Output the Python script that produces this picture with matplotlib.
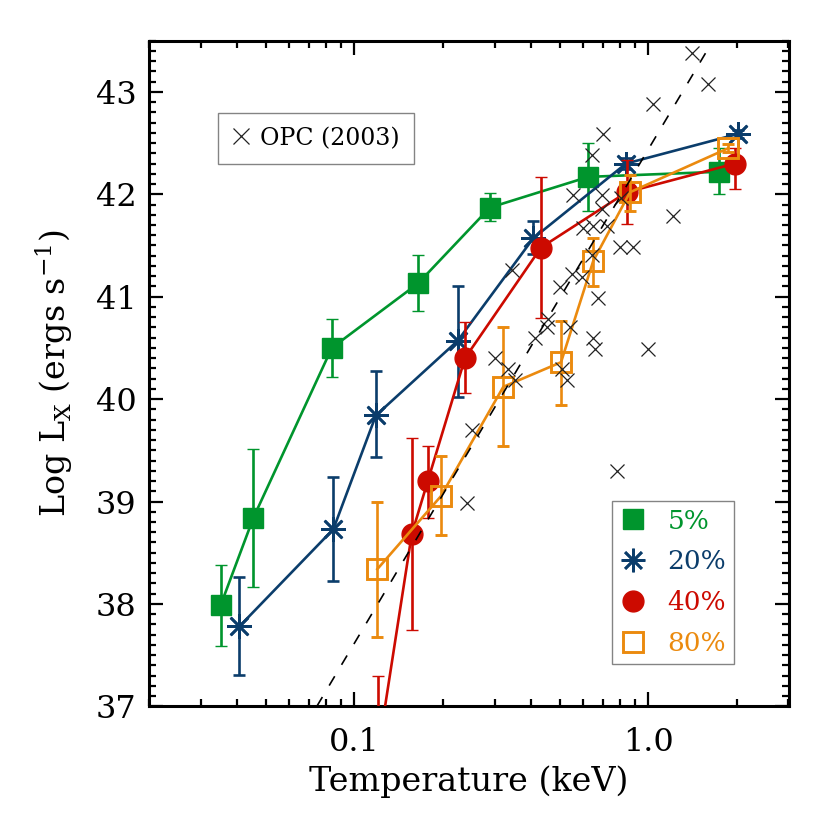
import matplotlib
matplotlib.use("Agg")
import matplotlib.pyplot as plt
from matplotlib.lines import Line2D
from matplotlib.ticker import FixedLocator, FixedFormatter, MultipleLocator

# ----------------------------------------------------
# Data
# ----------------------------------------------------
# 5% sample
green_T = [0.0351, 0.0453, 0.0838, 0.1647, 0.289, 0.625, 1.744]
green_L = [37.99, 38.84, 40.50, 41.13, 41.87, 42.17, 42.22]
green_lo = [37.59, 38.17, 40.22, 40.86, 41.74, 41.84, 42.00]
green_hi = [38.38, 39.51, 40.78, 41.41, 42.01, 42.50, 42.45]

# 20% sample
blue_T = [0.0406, 0.0848, 0.1183, 0.2247, 0.406, 0.840, 2.024]
blue_L = [37.78, 38.73, 39.84, 40.57, 41.57, 42.30, 42.59]
blue_lo = [37.31, 38.22, 39.43, 40.02, 41.42, 42.25, 42.55]
blue_hi = [38.26, 39.24, 40.27, 41.10, 41.74, 42.35, 42.63]

# 40% sample
red_T = [0.1207, 0.1567, 0.1777, 0.2379, 0.4316, 0.8444, 1.972]
red_L = [36.58, 38.68, 39.20, 40.40, 41.48, 42.02, 42.30]
red_lo = [35.90, 37.75, 38.84, 40.06, 40.79, 41.71, 42.05]
red_hi = [37.30, 39.62, 39.54, 40.75, 42.17, 42.33, 42.45]

# 80% sample
orange_T = [0.1197, 0.1967, 0.3212, 0.5048, 0.650, 0.8665, 1.872]
orange_L = [38.34, 39.05, 40.12, 40.36, 41.35, 42.02, 42.45]
orange_lo = [37.68, 38.67, 39.54, 39.94, 41.10, 41.84, 42.41]
orange_hi = [39.00, 39.44, 40.70, 40.76, 41.57, 42.19, 42.49]

# OPC (2003) groups
opc_T = [1.405, 1.600, 1.040, 0.703, 0.643, 0.554, 0.695, 1.218, 0.601,
         0.650, 0.722, 0.801, 0.889, 0.642, 0.549, 0.594, 0.501, 0.343,
         0.676, 0.457, 0.451, 0.542, 0.412, 0.650, 0.659, 1.000, 0.301,
         0.334, 0.352, 0.507, 0.528, 0.2514, 0.2417, 0.781, 0.807, 0.696]
opc_L = [43.38, 43.08, 42.88, 42.59, 42.38, 41.99, 41.99, 41.79, 41.67,
         41.69, 41.69, 41.49, 41.49, 41.41, 41.22, 41.19, 41.09, 41.26,
         40.99, 40.78, 40.70, 40.70, 40.60, 40.60, 40.49, 40.49, 40.40,
         40.29, 40.19, 40.29, 40.19, 39.70, 38.99, 39.30, 41.96, 41.86]

# OPC relation (dashed line end points)
fit_T = [0.0745, 1.66]
fit_L = [37.0, 43.5]

# Axis ticks
x_major = [0.1, 1.0]
x_major_labels = ["0.1", "1.0"]
x_minor = [0.02, 0.03, 0.04, 0.05, 0.06, 0.07, 0.08, 0.09,
           0.2, 0.3, 0.4, 0.5, 0.6, 0.7, 0.8, 0.9, 2.0, 3.0]

legend_labels = ["5%", "20%", "40%", "80%"]

GREEN = "#00952d"
BLUE = "#0b3d6b"
RED = "#cc0a00"
ORANGE = "#eb8a0e"

plt.rcParams["font.family"] = ["DejaVu Serif"]

fig = plt.figure(figsize=(8.3, 8.3), dpi=100)
ax = fig.add_axes([0.1795, 0.149, 0.7715, 0.802])


def draw_series(T, L, lo, hi, color, marker, ms, mfc, mew, z):
    yerr = [[l - a for l, a in zip(L, lo)], [b - l for l, b in zip(L, hi)]]
    ax.errorbar(T, L, yerr=yerr, color=color, lw=1.9, marker=marker,
                ms=ms, mfc=mfc, mec=color, mew=mew, elinewidth=1.9,
                capsize=4.5, capthick=1.9, zorder=z)


draw_series(green_T, green_L, green_lo, green_hi, GREEN, "s", 14.5, GREEN, 1, 3)
draw_series(blue_T, blue_L, blue_lo, blue_hi, BLUE, (8, 2, 0), 18, BLUE, 1.9, 4)
draw_series(red_T, red_L, red_lo, red_hi, RED, "o", 15, RED, 1, 5)
draw_series(orange_T, orange_L, orange_lo, orange_hi, ORANGE, "s", 15, "none", 2.1, 6)

# OPC crosses and relation
ax.plot(opc_T, opc_L, "x", color="#222222", ms=10, mew=0.9, zorder=7)
ax.plot(fit_T, fit_L, color="black", lw=1.2, ls=(0, (6.5, 8)), zorder=8)

# ----------------------------------------------------
# Axes
# ----------------------------------------------------
ax.set_xscale("log")
ax.set_xlim(0.02, 3.02)
ax.set_ylim(37, 43.5)

ax.xaxis.set_major_locator(FixedLocator(x_major))
ax.xaxis.set_major_formatter(FixedFormatter(x_major_labels))
ax.xaxis.set_minor_locator(FixedLocator(x_minor))
ax.xaxis.set_minor_formatter(FixedFormatter([""] * len(x_minor)))
ax.yaxis.set_major_locator(MultipleLocator(1))
ax.yaxis.set_minor_locator(MultipleLocator(0.1))

ax.tick_params(which="both", direction="in", top=True, right=True, width=1.6)
ax.tick_params(which="major", length=10, labelsize=23)
ax.tick_params(which="minor", length=5)
ax.tick_params(axis="x", which="major", pad=15)
ax.tick_params(axis="y", which="major", pad=9)
for s in ax.spines.values():
    s.set_linewidth(2.2)

ax.set_xlabel("Temperature (keV)", fontsize=24)
ax.set_ylabel(r"Log L$_\mathregular{X}$ (ergs s$^\mathregular{-1}$)", fontsize=24)
ax.xaxis.set_label_coords(0.5, -0.088)
ax.yaxis.set_label_coords(-0.115, 0.5)

# ----------------------------------------------------
# Legends
# ----------------------------------------------------
opc_handle = Line2D([], [], ls="none", marker="x", color="#222222", ms=12, mew=0.9)
leg1 = ax.legend([opc_handle], ["OPC (2003)"], loc="upper left",
                 bbox_to_anchor=(0.107, 0.892), borderaxespad=0, fontsize=17,
                 frameon=True, fancybox=False, edgecolor="#666666",
                 borderpad=0.6, handlelength=0.8, handletextpad=0.4)
leg1.get_frame().set_linewidth(1.0)
ax.add_artist(leg1)

handles = [
    Line2D([], [], ls="none", marker="s", color=GREEN, ms=14),
    Line2D([], [], ls="none", marker=(8, 2, 0), color=BLUE, ms=17, mew=1.9),
    Line2D([], [], ls="none", marker="o", color=RED, ms=15),
    Line2D([], [], ls="none", marker="s", mfc="none", mec=ORANGE, ms=15, mew=2.1),
]
leg2 = ax.legend(handles, legend_labels, loc="lower right",
                 bbox_to_anchor=(0.914, 0.0636), borderaxespad=0, fontsize=19,
                 frameon=True, fancybox=False, edgecolor="#666666",
                 borderpad=0.3, labelspacing=0.6, handlelength=1.0,
                 handletextpad=0.8)
leg2.get_frame().set_linewidth(1.0)
for txt, c in zip(leg2.get_texts(), [GREEN, BLUE, RED, ORANGE]):
    txt.set_color(c)

fig.savefig("out.png", dpi=100)
